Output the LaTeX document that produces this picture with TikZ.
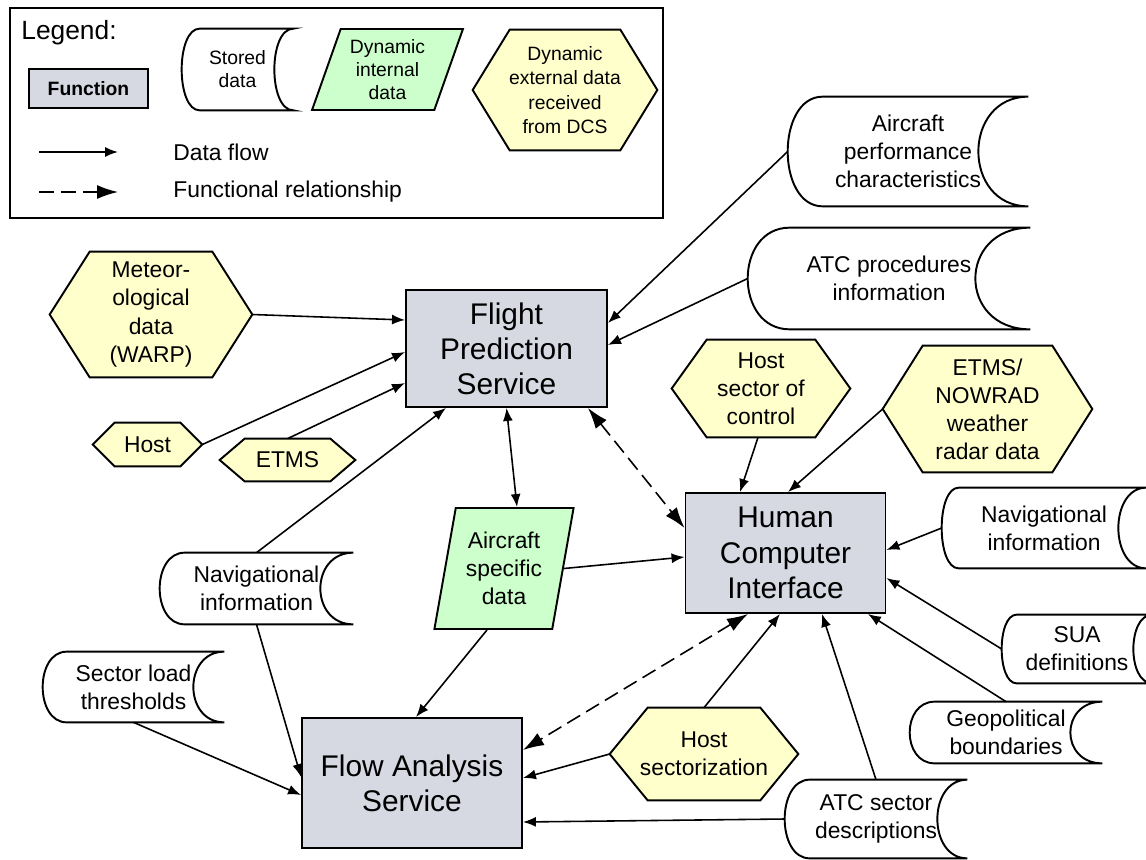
\documentclass[tikz,border=0pt]{standalone}
\usepackage{fontspec}
\setmainfont{Liberation Sans}
\usetikzlibrary{arrows.meta, shapes.geometric}
\pgfdeclarelayer{background}
\pgfsetlayers{background,main}
\definecolor{funcgray}{RGB}{214,216,226}
\definecolor{dcsyellow}{RGB}{255,255,204}
\definecolor{dyngreen}{RGB}{204,255,204}

\begin{document}
\begin{tikzpicture}[x=0.02cm, y=-0.02cm,
    func/.style={draw, line width=1.1pt, fill=funcgray, align=center, inner sep=0pt,
      font=\fontsize{17}{20}\selectfont},
    stored/.style={align=center, inner sep=0pt, font=\fontsize{13}{16}\selectfont},
    dcs/.style={align=center, inner sep=0pt, font=\fontsize{13}{16}\selectfont},
    dyn/.style={trapezium, trapezium stretches=true, draw, line width=1.1pt, fill=dyngreen,
      align=center, inner sep=0pt, font=\fontsize{13}{16}\selectfont},
    outline/.style={line width=1.1pt},
    flow/.style={line width=0.9pt, -{Latex[length=0.26cm, width=0.2cm]}},
    flowboth/.style={flow, {Latex[length=0.26cm, width=0.2cm]}-{Latex[length=0.26cm, width=0.2cm]}},
    relation/.style={line width=0.9pt, dash pattern=on 0.3cm off 0.14cm, -{Latex[length=0.42cm, width=0.28cm]}},
    relationboth/.style={relation, {Latex[length=0.42cm, width=0.28cm]}-{Latex[length=0.42cm, width=0.28cm]}}
  ]
\useasboundingbox (0,0) rectangle (1146,859);

%Legend
\draw[outline] (10,8) rectangle (663,218);
\node[anchor=west, inner sep=0pt, font=\fontsize{15}{18}\selectfont] (legtitle) at (21,33) {Legend:};
\node[func, font=\fontsize{11}{13}\selectfont\bfseries, minimum width=2.38cm, minimum height=0.78cm] (legfunc) at (88.5,88.5) {Function};
\node[stored, font=\fontsize{11}{13}\selectfont, minimum width=2.22cm, minimum height=1.62cm] (legstored) at (237.5,69.5) {Stored\\data};
\node[dyn, trapezium left angle=69, trapezium right angle=111, font=\fontsize{11}{13}\selectfont,
  minimum width=3.02cm, minimum height=1.62cm] (legint) at (387.5,69.5) {Dynamic\\internal\\data};
\node[dcs, font=\fontsize{11}{14}\selectfont, minimum width=3.68cm, minimum height=2.4cm] (legext) at (565,90) {Dynamic\\external data\\received\\from DCS};
\coordinate (dfstart) at (39,152);
\coordinate (dfend) at (118,152);
\draw[flow] (dfstart) -- (dfend);
\node[anchor=west, inner sep=0pt, font=\fontsize{13}{16}\selectfont] (dflabel) at (173,152) {Data flow};
\coordinate (frstart) at (39,192);
\coordinate (frend) at (118,192);
\draw[relation] (frstart) -- (frend);
\node[anchor=west, inner sep=0pt, font=\fontsize{13}{16}\selectfont] (frlabel) at (173,192) {Functional relationship};

%Functions
\node[func, minimum width=4.02cm, minimum height=2.34cm] (fps) at (506.5,348.5) {Flight\\Prediction\\Service};
\node[func, minimum width=4cm, minimum height=2.4cm] (hci) at (785.5,553) {Human\\Computer\\Interface};
\node[func, minimum width=4.4cm, minimum height=2.6cm] (fas) at (412,783) {Flow Analysis\\Service};

%Stored data
\node[stored, minimum width=4.8cm, minimum height=2.18cm] (acperf) at (908,151.5) {Aircraft\\performance\\characteristics};
\node[stored, minimum width=5.64cm, minimum height=2.02cm] (atcproc) at (889,278.5) {ATC procedures\\information};
\node[stored, minimum width=4.08cm, minimum height=1.6cm] (navr) at (1044,528) {Navigational\\information};
\node[stored, minimum width=3cm, minimum height=1.36cm] (sua) at (1077,649) {SUA\\definitions};
\node[stored, minimum width=3.84cm, minimum height=1.22cm] (geo) at (1006,732.5) {Geopolitical\\boundaries};
\node[stored, minimum width=3.64cm, minimum height=1.56cm] (atcsec) at (876,819) {ATC sector\\descriptions};
\node[stored, minimum width=3.86cm, minimum height=1.42cm] (navl) at (256.5,588.5) {Navigational\\information};
\node[stored, minimum width=3.62cm, minimum height=1.4cm] (secload) at (133.5,687) {Sector load\\thresholds};

%External data from DCS
\node[dcs, minimum width=4.04cm, minimum height=2.5cm] (met) at (151,314.5) {Meteor-\\ological\\data\\(WARP)};
\node[dcs, minimum width=2.18cm, minimum height=0.86cm] (host) at (147.5,444.5) {Host};
\node[dcs, minimum width=2.7cm, minimum height=0.84cm] (etms) at (287.5,460) {ETMS};
\node[dcs, minimum width=3.56cm, minimum height=1.94cm] (hsc) at (761,388.5) {Host\\sector of\\control};
\node[dcs, minimum width=4.18cm, minimum height=2.52cm] (etmsnow) at (987.5,409) {ETMS/\\NOWRAD\\weather\\radar data};
\node[dcs, minimum width=3.76cm, minimum height=1.84cm] (hsect) at (704,754) {Host\\sectorization};

%Internal data
\node[dyn, trapezium left angle=77, trapezium right angle=103, minimum width=2.8cm, minimum height=2.42cm] (acspec) at (504,568.5) {Aircraft\\specific\\data};

%hexagons behind their text
\begin{pgfonlayer}{background}
\foreach \n/\p in {legext/0.74, met/0.8, host/0.44, etms/0.5, hsc/0.7, etmsnow/0.8, hsect/0.76}
  \draw[outline, fill=dcsyellow] (\n.west) -- ([xshift=\p cm]\n.north west) -- ([xshift=-\p cm]\n.north east)
    -- (\n.east) -- ([xshift=-\p cm]\n.south east) -- ([xshift=\p cm]\n.south west) -- cycle;
\end{pgfonlayer}

%stored data outlines, left and right bow depth
\foreach \n/\l/\r in {legstored/0.36/0.38, acperf/0.7/1.0, atcproc/0.84/1.1, navr/0.34/0.56, sua/0.3/0.38,
    geo/0.5/0.64, atcsec/0.5/0.6, navl/0.5/0.66, secload/0.48/0.62}
  \draw[outline] ([xshift=\l cm]\n.north west) -- (\n.north east)
    .. controls ([xshift={-1.333*\r*1cm}]\n.north east) and ([xshift={-1.333*\r*1cm}]\n.south east) .. (\n.south east)
    -- ([xshift=\l cm]\n.south west)
    .. controls ([xshift={-0.333*\l*1cm}]\n.south west) and ([xshift={-0.333*\l*1cm}]\n.north west) .. cycle;

%Data flows
\draw[flow] (acperf.west) -- ([yshift=0.51cm]fps.east);
\draw[flow] (atcproc.west) -- ([yshift=0.07cm]fps.east);
\draw[flow] (met.east) -- ([yshift=0.57cm]fps.west);
\draw[flow] (host.east) -- ([yshift=-0.07cm]fps.west);
\draw[flow] (etms.north) -- ([yshift=-0.69cm]fps.west);
\draw[flow] (navl.north) -- ([xshift=-1.21cm]fps.south);
\draw[flowboth] (fps.south) -- ([xshift=0.26cm]acspec.north);
\draw[flow] ([xshift=-0.06cm]hsc.south) -- ([xshift=-0.91cm]hci.north);
\draw[flow] (etmsnow.west) -- ([xshift=0.05cm]hci.north);
\draw[flow] (acspec.east) -- ([yshift=-0.08cm]hci.west);
\draw[flow] (navr.west) -- ([yshift=0.06cm]hci.east);
\draw[flow] (sua.west) -- ([yshift=-0.5cm]hci.east);
\draw[flow] (geo.north) -- ([xshift=-0.37cm]hci.south east);
\draw[flow] (atcsec.north) -- ([xshift=0.73cm]hci.south);
\draw[flow] (hsect.north) -- ([xshift=-0.11cm]hci.south);
\draw[flow] (hsect.west) -- ([yshift=0.1cm]fas.east);
\draw[flow] (atcsec.west) -- ([yshift=-0.78cm]fas.east);
\draw[flow] ([xshift=-0.34cm]acspec.south) -- ([xshift=0.08cm]fas.north);
\draw[flow] (navl.south) -- ([yshift=0.12cm]fas.west);
\draw[flow] (secload.south) -- ([yshift=-0.24cm]fas.west);

%Functional relationships
\draw[relationboth] ([xshift=-0.4cm]fps.south east) -- ([yshift=0.5cm]hci.west);
\draw[relationboth] ([xshift=-0.75cm]hci.south) -- ([yshift=0.66cm]fas.east);
\end{tikzpicture}
\end{document}
